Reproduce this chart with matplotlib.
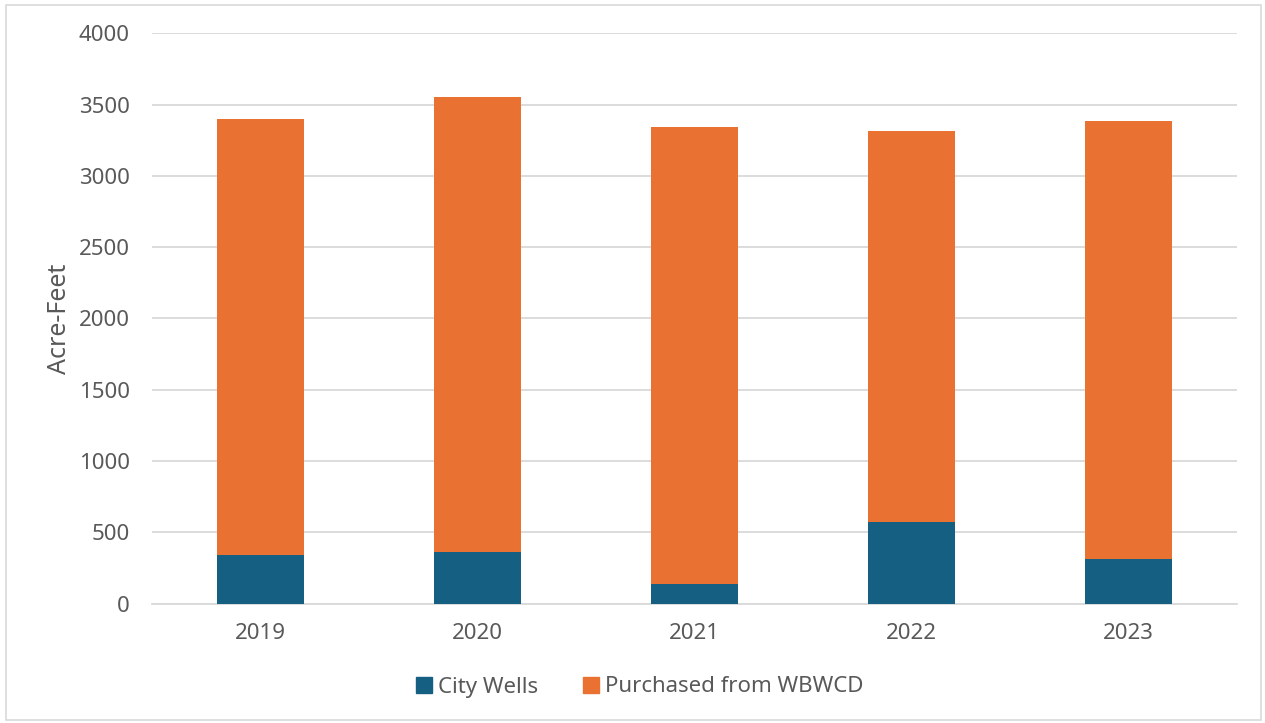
import matplotlib
matplotlib.use("Agg")
import matplotlib.pyplot as plt
from matplotlib.patches import Rectangle, Patch

years = ["2019", "2020", "2021", "2022", "2023"]
city_wells = [339, 363, 136, 571, 309]
purchased = [3062, 3188, 3207, 2742, 3074]
yticks = [0, 500, 1000, 1500, 2000, 2500, 3000, 3500, 4000]

blue = "#156082"
orange = "#E97132"
txt = "#595959"
grid = "#D9D9D9"

plt.rcParams['font.family'] = ['Noto Sans', 'DejaVu Sans']

W, H = 1265, 723
fig = plt.figure(figsize=(W / 100, H / 100), dpi=100)
ax = fig.add_axes([152 / W, 1 - 603.5 / H, (1237 - 152) / W, (603.5 - 33.3) / H])

x = list(range(len(years)))
ax.bar(x, city_wells, width=0.4, color=blue, label="City Wells", zorder=3)
ax.bar(x, purchased, width=0.4, bottom=city_wells, color=orange,
       label="Purchased from WBWCD", zorder=3)

ax.set_xlim(-0.5, len(years) - 0.5)
ax.set_ylim(0, 4000)
ax.set_yticks(yticks)
ax.set_yticklabels([str(v) for v in yticks])
ax.set_xticks(x)
ax.set_xticklabels(years)
ax.tick_params(axis='both', length=0, labelsize=16, colors=txt)
ax.tick_params(axis='y', pad=16)
ax.tick_params(axis='x', pad=14)
ax.yaxis.grid(True, color=grid, linewidth=1.3, zorder=0)
ax.set_axisbelow(True)
for s in ["top", "right", "left"]:
    ax.spines[s].set_visible(False)
ax.spines["bottom"].set_color(grid)
ax.spines["bottom"].set_linewidth(1.3)

ax.set_ylabel("Acre-Feet", fontsize=18, color=txt, labelpad=5)

handles = [Patch(color=blue), Patch(color=orange)]
fig.legend(handles, ["City Wells", "Purchased from WBWCD"], loc="center",
           bbox_to_anchor=(640 / W, 1 - 687 / H), ncol=2, frameon=False,
           fontsize=16, labelcolor=txt, handlelength=0.7, handleheight=0.7,
           handletextpad=0.3, columnspacing=2.0)

fig.patches.append(Rectangle((5.5 / W, 1 - 720 / H), (1261 - 5.5) / W, (720 - 4.5) / H,
                             transform=fig.transFigure, fill=False,
                             edgecolor="#D9D9D9", linewidth=1.2))

fig.savefig("out.png", dpi=100)
